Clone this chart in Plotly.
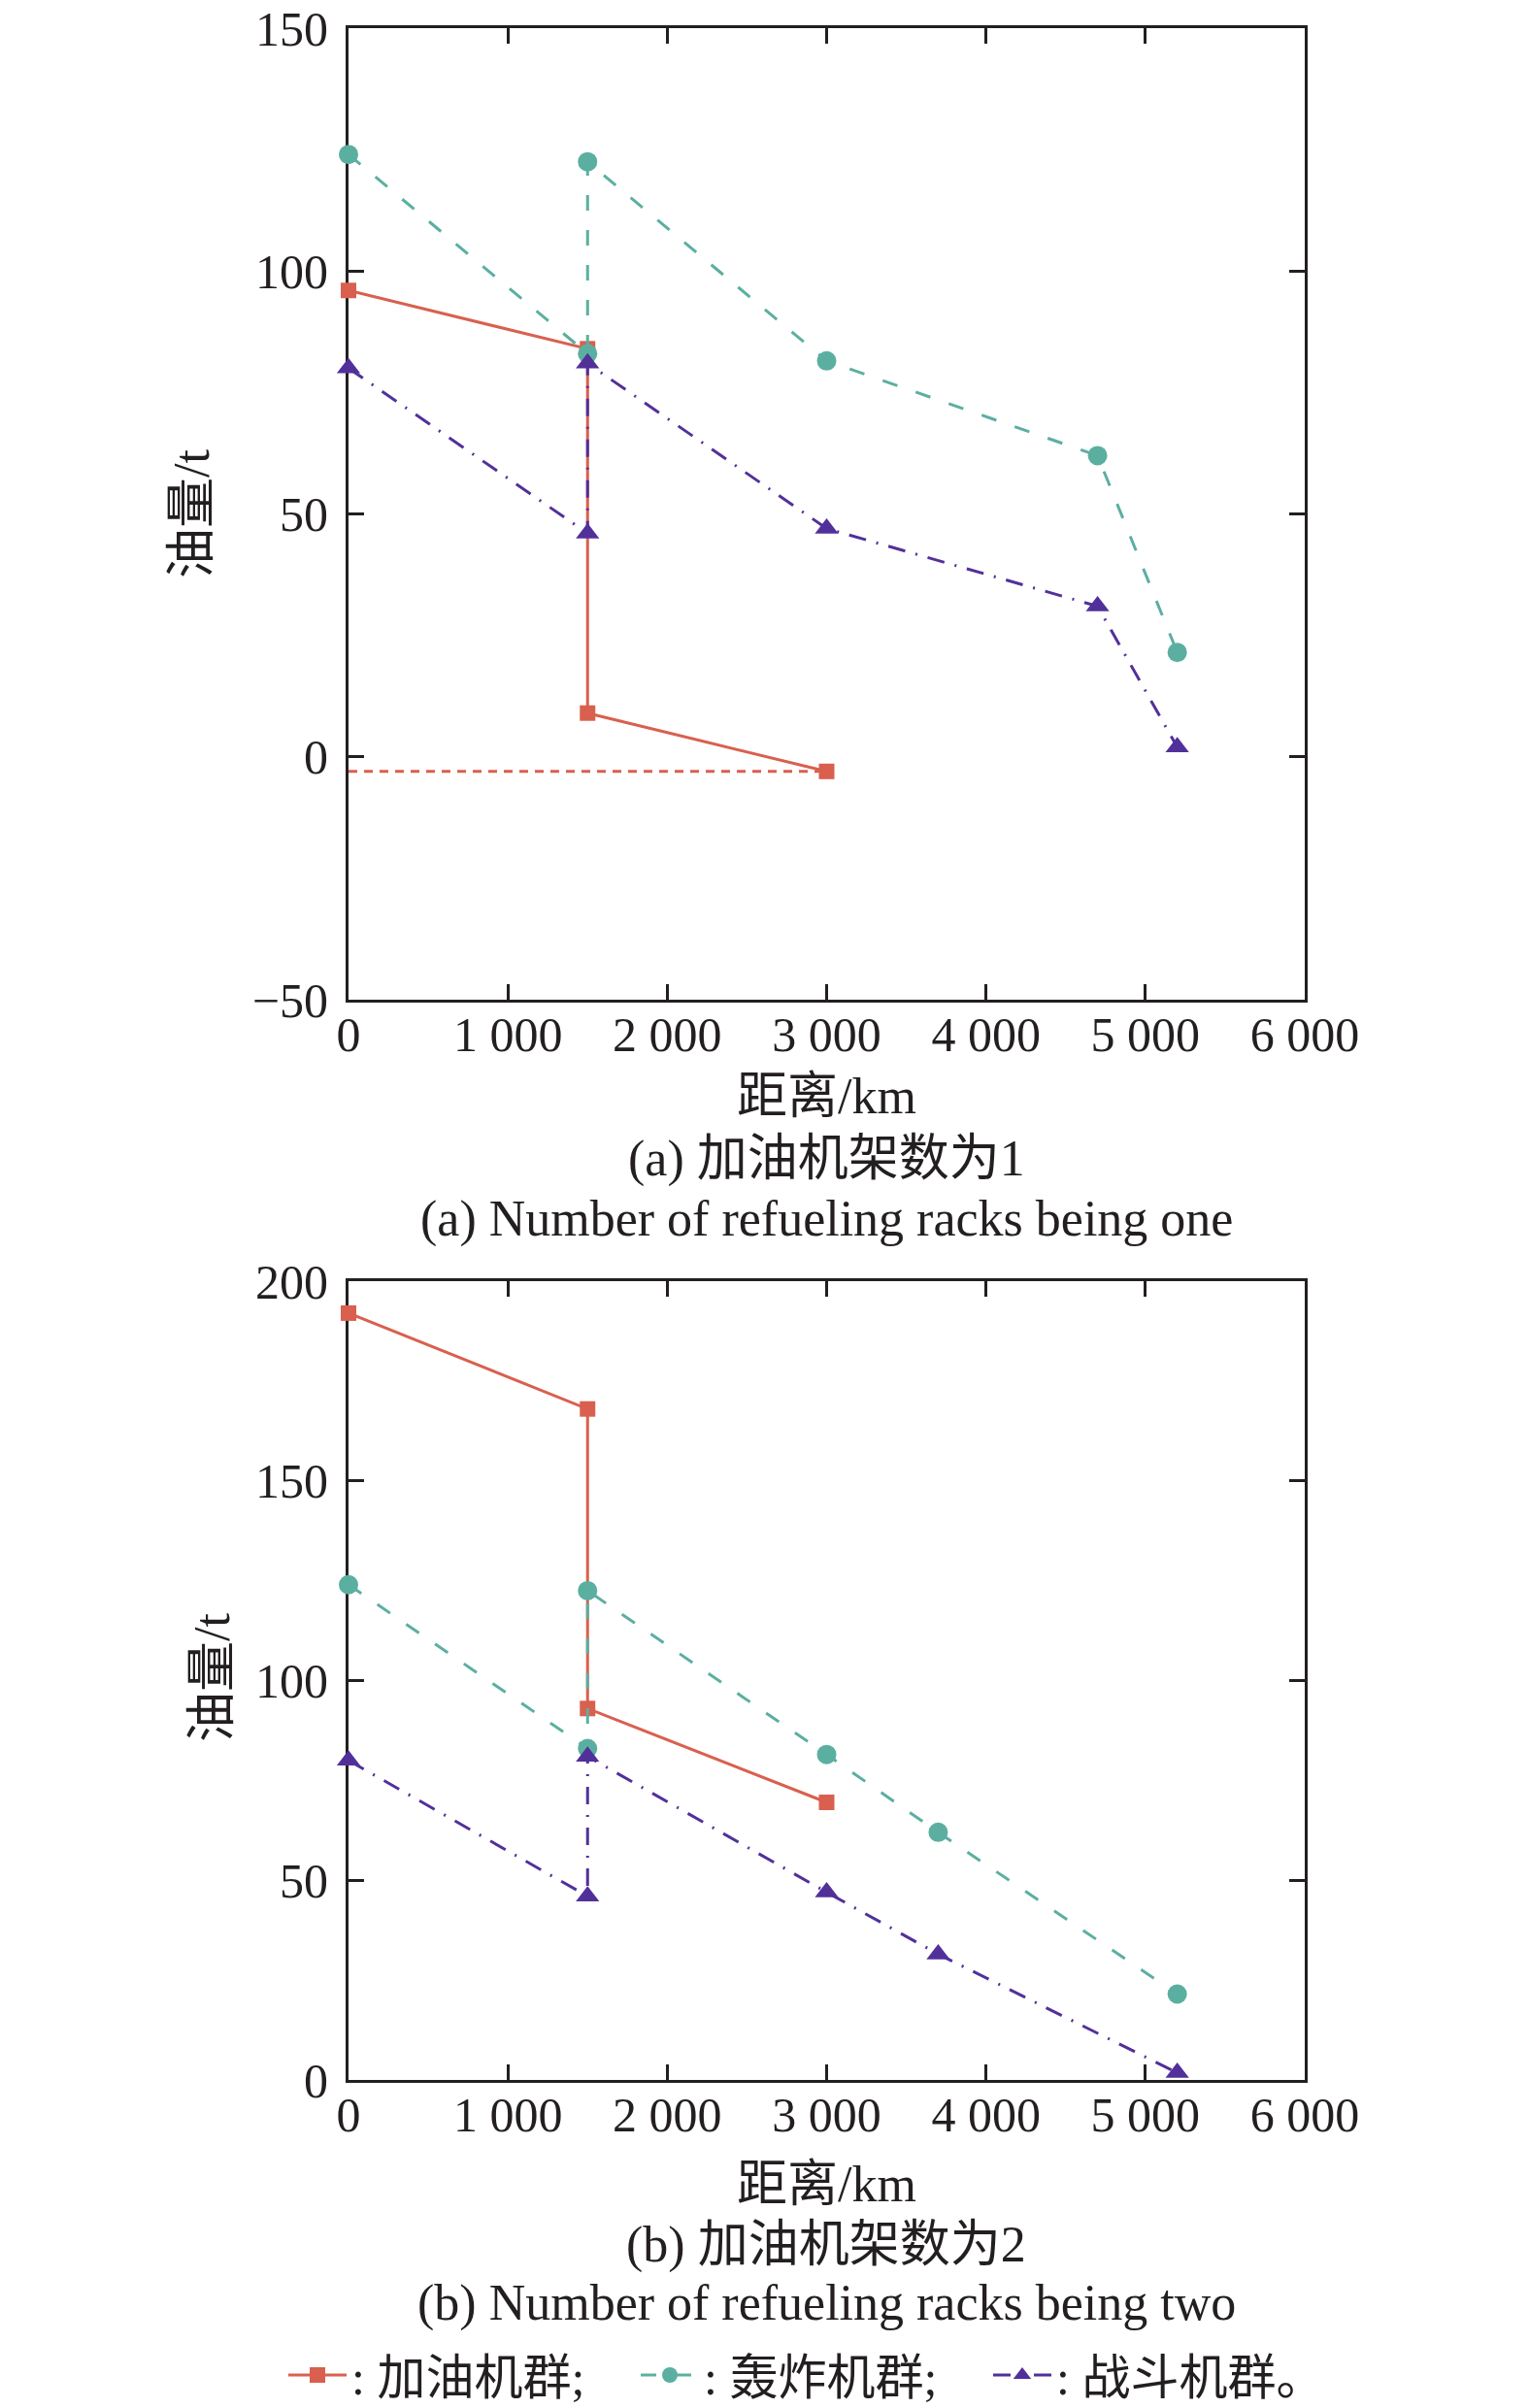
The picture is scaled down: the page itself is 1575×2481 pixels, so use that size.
import plotly.graph_objects as go

# ---------------- data ----------------
x_tick_vals = [0, 1000, 2000, 3000, 4000, 5000, 6000]
x_tick_text = ["0", "1 000", "2 000", "3 000", "4 000", "5 000", "6 000"]
y_tick_vals_a = [-50, 0, 50, 100, 150]
y_tick_text_a = ["−50", "0", "50", "100", "150"]
y_tick_vals_b = [0, 50, 100, 150, 200]
y_tick_text_b = ["0", "50", "100", "150", "200"]

# (a) one refueling rack
refuel_a_x = [0, 1500, 1500, 3000]
refuel_a_y = [96, 84, 9, -3]
refuel_a_ref_x = [0, 3000]
refuel_a_ref_y = [-3, -3]
bomber_a_x = [0, 1500, 1500, 3000, 4700, 5200]
bomber_a_y = [124, 83, 122.5, 81.5, 62, 21.5]
fighter_a_x = [0, 1500, 1500, 3000, 4700, 5200]
fighter_a_y = [80, 46, 81, 47, 31, 2]

# (b) two refueling racks
refuel_b_x = [0, 1500, 1500, 3000]
refuel_b_y = [192, 168, 93, 69.5]
bomber_b_x = [0, 1500, 1500, 3000, 3700, 5200]
bomber_b_y = [124, 83, 122.5, 81.5, 62, 21.5]
fighter_b_x = [0, 1500, 1500, 3000, 3700, 5200]
fighter_b_y = [80, 46, 81, 47, 31.5, 1.8]

names = [": 加油机群;", ": 轰炸机群;", ": 战斗机群。"]

# ---------------- style ----------------
W, H = 1575, 2481
FONT = "Liberation Serif, Noto Sans CJK SC, serif"
RED = "#D9604E"
TEAL = "#5BAFA1"
PURPLE = "#52309A"
AX = "#231F20"

def px_x(p):
    return p / W

def px_y(p):
    return 1 - p / H

fig = go.Figure()

def add_panel(xa, ya, rx, ry, bx, by, fx, fy, show):
    fig.add_trace(go.Scatter(x=rx, y=ry, xaxis=xa, yaxis=ya, mode="lines+markers",
                             name=names[0], showlegend=show, cliponaxis=False,
                             line=dict(color=RED, width=3),
                             marker=dict(symbol="square", size=16, color=RED)))
    fig.add_trace(go.Scatter(x=bx, y=by, xaxis=xa, yaxis=ya, mode="lines+markers",
                             name=names[1], showlegend=show, cliponaxis=False,
                             line=dict(color=TEAL, width=3, dash="16px,20px"),
                             marker=dict(symbol="circle", size=20, color=TEAL)))
    fig.add_trace(go.Scatter(x=fx, y=fy, xaxis=xa, yaxis=ya, mode="lines+markers",
                             name=names[2], showlegend=show, cliponaxis=False,
                             line=dict(color=PURPLE, width=3, dash="18px,11px,2px,11px"),
                             marker=dict(symbol="triangle-up", size=21, color=PURPLE)))

# reference dashed line in (a)
fig.add_trace(go.Scatter(x=refuel_a_ref_x, y=refuel_a_ref_y, xaxis="x", yaxis="y",
                         mode="lines", showlegend=False,
                         line=dict(color=RED, width=3, dash="9px,7px")))
add_panel("x", "y", refuel_a_x, refuel_a_y, bomber_a_x, bomber_a_y,
          fighter_a_x, fighter_a_y, False)
add_panel("x2", "y2", refuel_b_x, refuel_b_y, bomber_b_x, bomber_b_y,
          fighter_b_x, fighter_b_y, True)

xdom = [px_x(359), px_x(1344)]
common_axis = dict(showline=True, linewidth=3, linecolor=AX, mirror="ticks",
                   ticks="inside", ticklen=16, tickwidth=3, tickcolor=AX,
                   showgrid=False, zeroline=False, automargin=False,
                   layer="below traces",
                   tickfont=dict(family=FONT, size=50, color=AX))

fig.update_layout(
    width=W, height=H,
    margin=dict(l=0, r=0, t=0, b=0, pad=0, autoexpand=False),
    paper_bgcolor="white", plot_bgcolor="white",
    font=dict(family=FONT, color=AX),
    xaxis=dict(domain=xdom, range=[0, 6000], tickvals=x_tick_vals, ticktext=x_tick_text,
               anchor="y", ticklabelstandoff=-10, **common_axis),
    yaxis=dict(domain=[px_y(1030), px_y(29)], range=[-50, 150], tickvals=y_tick_vals_a,
               ticktext=y_tick_text_a, anchor="x", ticklabelstandoff=8, **common_axis),
    xaxis2=dict(domain=xdom, range=[0, 6000], tickvals=x_tick_vals, ticktext=x_tick_text,
                anchor="y2", ticklabelstandoff=-10, **common_axis),
    yaxis2=dict(domain=[px_y(2143), px_y(1320)], range=[0, 200], tickvals=y_tick_vals_b,
                ticktext=y_tick_text_b, anchor="x2", ticklabelstandoff=8, **common_axis),
    legend=dict(orientation="h", x=px_x(292), y=px_y(2447), xanchor="left", yanchor="middle",
                font=dict(family=FONT, size=50, color=AX), bgcolor="rgba(0,0,0,0)",
                entrywidth=288, entrywidthmode="pixels", itemwidth=60, traceorder="normal"),
)

annots = [
    ("距离/km", 851, 1129, 0),
    ("(a) 加油机架数为1", 851, 1194, 0),
    ("(a) Number of refueling racks being one", 851, 1256, 0),
    ("距离/km", 851, 2250, 0),
    ("(b) 加油机架数为2", 851, 2313, 0),
    ("(b) Number of refueling racks being two", 851, 2373, 0),
    ("油量/t", 197, 529, -90),
    ("油量/t", 218, 1729, -90),
]
for txt, ax_, ay_, ang in annots:
    fig.add_annotation(text=txt, x=px_x(ax_), y=px_y(ay_), xref="paper", yref="paper",
                       xanchor="center", yanchor="middle", showarrow=False, textangle=ang,
                       font=dict(family=FONT, size=52, color=AX))

fig.write_html("out.html", config={"displayModeBar": False},
               post_script="document.body.style.margin='0';")
